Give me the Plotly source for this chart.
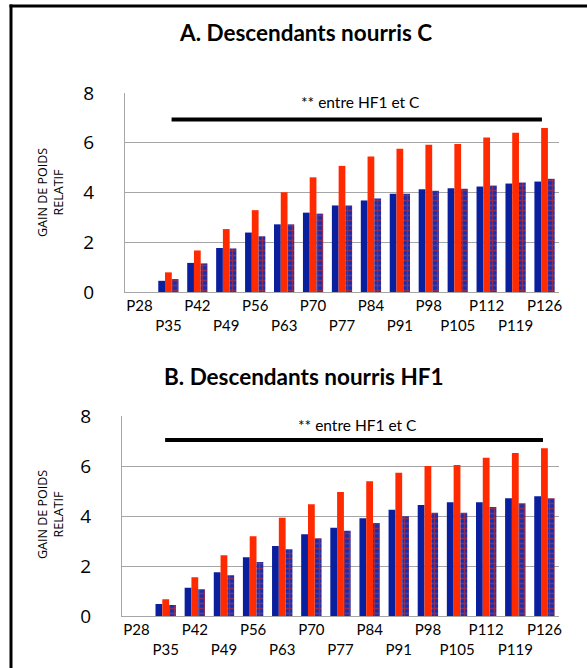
import plotly.graph_objects as go

W, H = 587, 668

categories = ["P28", "P35", "P42", "P49", "P56", "P63", "P70", "P77",
              "P84", "P91", "P98", "P105", "P112", "P119", "P126"]
tick_text = [c if i % 2 == 0 else "<br>" + c for i, c in enumerate(categories)]

# Panel A: Descendants nourris C
a_blue = [0, 0.45, 1.17, 1.77, 2.39, 2.72, 3.19, 3.48, 3.68, 3.95, 4.13, 4.17, 4.24, 4.36, 4.44]
a_red = [0, 0.79, 1.67, 2.53, 3.29, 4.01, 4.61, 5.07, 5.45, 5.76, 5.92, 5.95, 6.21, 6.40, 6.59]
a_pat = [0, 0.52, 1.15, 1.75, 2.24, 2.72, 3.15, 3.48, 3.76, 3.95, 4.07, 4.15, 4.28, 4.40, 4.55]

# Panel B: Descendants nourris HF1
b_blue = [0, 0.48, 1.13, 1.75, 2.35, 2.80, 3.27, 3.53, 3.91, 4.25, 4.44, 4.55, 4.55, 4.71, 4.79]
b_red = [0, 0.67, 1.55, 2.43, 3.19, 3.93, 4.47, 4.96, 5.39, 5.73, 6.00, 6.04, 6.33, 6.52, 6.71]
b_pat = [0, 0.44, 1.07, 1.63, 2.16, 2.67, 3.11, 3.41, 3.72, 3.99, 4.13, 4.13, 4.36, 4.51, 4.71]

titles = ["A. Descendants nourris C", "B. Descendants nourris HF1"]
sig_text = "** entre HF1 et C"
y_ticks = [0, 2, 4, 6, 8]

BLUE = "#0a1f9e"
RED = "#ff2a00"
PAT_BG = "#1330b4"

def px_x(v):
    return v / W

def px_y(v):
    return 1 - v / H

fig = go.Figure()

panels = [
    dict(blue=a_blue, red=a_red, pat=a_pat, xa="x", ya="y",
         xdom=[px_x(125), px_x(559)], ydom=[px_y(292), px_y(93)]),
    dict(blue=b_blue, red=b_red, pat=b_pat, xa="x2", ya="y2",
         xdom=[px_x(122), px_x(559)], ydom=[px_y(616), px_y(416)]),
]

for p in panels:
    fig.add_trace(go.Bar(x=categories, y=p["blue"], marker=dict(color=BLUE, line=dict(width=0)),
                         xaxis=p["xa"], yaxis=p["ya"], showlegend=False))
    fig.add_trace(go.Bar(x=categories, y=p["red"], marker=dict(color=RED, line=dict(width=0)),
                         xaxis=p["xa"], yaxis=p["ya"], showlegend=False))
    fig.add_trace(go.Bar(x=categories, y=p["pat"],
                         marker=dict(color=PAT_BG, line=dict(width=0),
                                     pattern=dict(shape="+", fgcolor=RED, bgcolor=PAT_BG,
                                                  size=5, solidity=0.45, fillmode="overlay")),
                         xaxis=p["xa"], yaxis=p["ya"], showlegend=False))

axis_common_x = dict(
    type="category", tickmode="array", tickvals=categories, ticktext=tick_text,
    showgrid=False, showline=True, linecolor="#a6a6a6", linewidth=1,
    ticks="", tickangle=0, tickfont=dict(family="Lato", size=15, color="black"),
    automargin=False, fixedrange=True,
)
axis_common_y = dict(
    range=[0, 8], tickvals=y_ticks, showgrid=True, gridcolor="#a6a6a6", gridwidth=1,
    showline=True, linecolor="#a6a6a6", linewidth=1, zeroline=False,
    ticks="outside", ticklen=0, ticklabelstandoff=26,
    tickfont=dict(family="Open Sans", size=19, color="black"),
    automargin=False, fixedrange=True,
)

fig.update_layout(
    width=W, height=H,
    margin=dict(l=0, r=0, t=0, b=0),
    paper_bgcolor="white", plot_bgcolor="white",
    barmode="group", bargap=0.3, bargroupgap=0,
    xaxis=dict(domain=panels[0]["xdom"], anchor="y", **axis_common_x),
    yaxis=dict(domain=panels[0]["ydom"], anchor="x", **axis_common_y),
    xaxis2=dict(domain=panels[1]["xdom"], anchor="y2", **axis_common_x),
    yaxis2=dict(domain=panels[1]["ydom"], anchor="x2", **axis_common_y),
)

def ann(text, x, y, size, family="Lato", angle=0):
    return dict(text=text, x=px_x(x), y=px_y(y), xref="paper", yref="paper",
                xanchor="center", yanchor="middle", textangle=angle,
                showarrow=False, font=dict(family=family, size=size, color="black"))

annotations = [
    ann("<b>" + titles[0] + "</b>", 305, 32, 22.5),
    ann("<b>" + titles[1] + "</b>", 304, 376, 22.5),
    ann("GAIN DE POIDS<br>RELATIF", 50, 193, 12.5, "Open Sans", -90),
    ann("GAIN DE POIDS<br>RELATIF", 50, 515, 12.5, "Open Sans", -90),
    ann(sig_text, 360, 102, 15.5),
    ann(sig_text, 357, 425, 15.5),
]
fig.update_layout(annotations=annotations)

shapes = [
    # significance lines
    dict(type="line", xref="x", yref="y", x0=1.11, x1=13.91, y0=6.93, y1=6.93,
         line=dict(color="black", width=4)),
    dict(type="line", xref="x2", yref="y2", x0=0.98, x1=13.95, y0=7.04, y1=7.04,
         line=dict(color="black", width=4)),
    # outer frame
    dict(type="line", xref="paper", yref="paper", x0=px_x(11), x1=px_x(11), y0=px_y(4.5), y1=px_y(H + 5),
         line=dict(color="black", width=3)),
    dict(type="line", xref="paper", yref="paper", x0=px_x(9.5), x1=px_x(W + 5), y0=px_y(6), y1=px_y(6),
         line=dict(color="black", width=3)),
]
fig.update_layout(shapes=shapes)

fig.write_html("out.html", config={"displayModeBar": False},
               post_script="document.body.style.margin='0px';")
